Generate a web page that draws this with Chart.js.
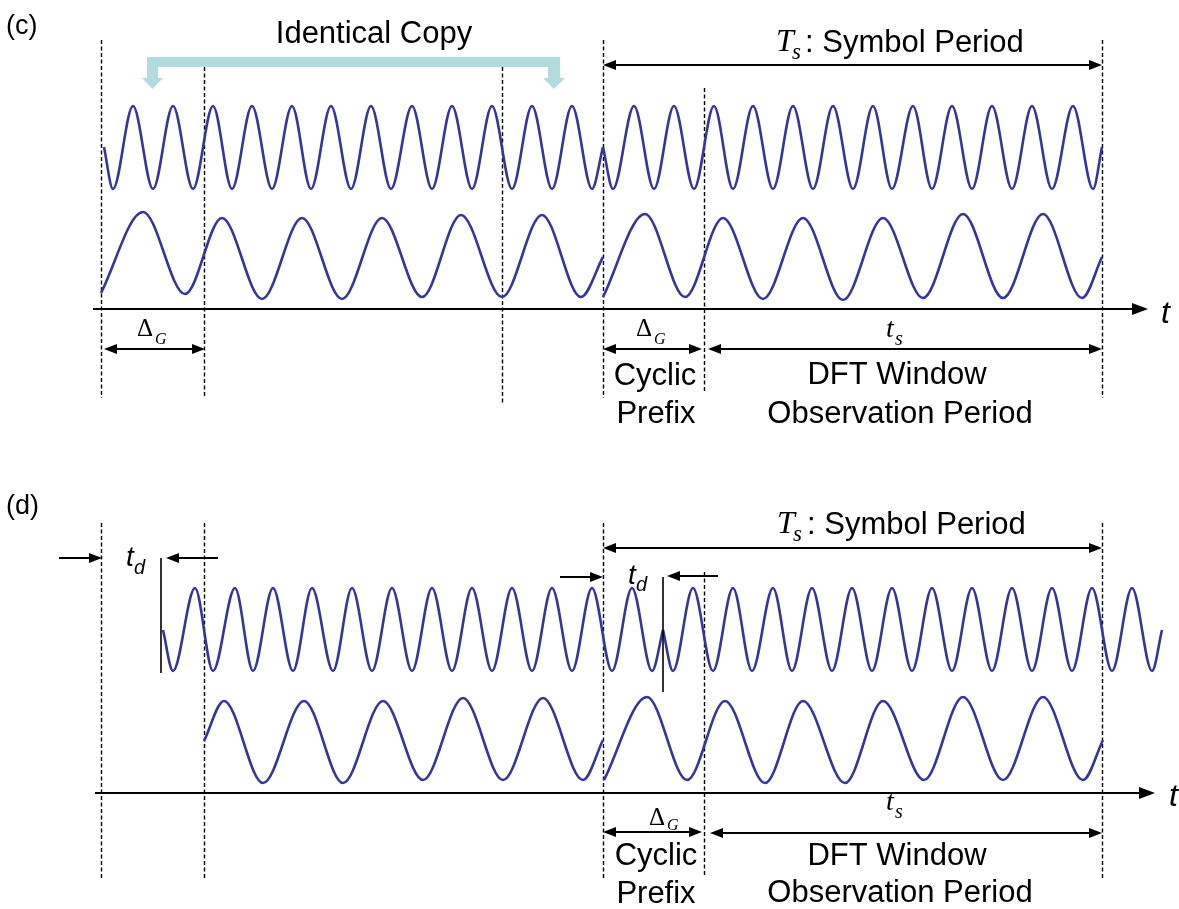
<!DOCTYPE html>
<html>
<head>
<meta charset="utf-8">
<title>Cyclic prefix / delay spread</title>
<script src="https://cdn.jsdelivr.net/npm/chart.js@4.4.1/dist/chart.umd.min.js"></script>
<style>
  html, body { margin: 0; padding: 0; background: #fff; }
  #wrap { width: 1179px; height: 909px; }
</style>
</head>
<body>
<div id="wrap"><canvas id="chart"></canvas></div>
<script>
// time runs left to right in the figure's own units, level top to bottom
// symbol edges: copy start/end, guard start, DFT start, symbol end
const edges = [101, 204, 502, 603, 704, 1102];

// (c) fast carrier: start, every trough/peak, end  ([time, level])
const fastC1 = [[104,147],[113,189],[133,106],[153,189],[173,106],[193,189],[213,106],[232,189],[252,106],[272,189],[292,106],[311,189],[331,106],[351,189],[371,106],[391,189],[412,106],[432,189],[452,106],[472,189],[492,106],[512,189],[532,106],[552,189],[572,106],[592,189],[603,147]];
const fastC2 = [[603,147],[613,189],[634,106],[654,189],[674,106],[694,189],[714,106],[733,189],[753,106],[773,189],[793,106],[813,189],[833,106],[853,189],[873,106],[892,189],[913,106],[932,189],[952,106],[972,189],[992,106],[1012,189],[1032,106],[1052,189],[1073,106],[1093,189],[1102,147]];
// (c) slow carrier
const slowC1 = [[101,293],[143,212],[185,294],[222,218],[262,299],[302,218],[342,299],[382,218],[422,297],[461,215],[502,297],[542,215],[581,297],[603,257]];
const slowC2 = [[603,297],[645,214],[685,297],[723,218],[763,299],[803,218],[843,300],[883,218],[923,298],[963,214],[1003,298],[1043,214],[1082,298],[1102,257]];

// (d) fast carrier, arriving t_d late
const fastD1 = [[163,630],[173,671],[195,588],[213,671],[235,588],[253,671],[273,588],[293,671],[312,588],[333,671],[352,588],[372,671],[392,588],[412,671],[432,588],[452,671],[472,588],[492,671],[512,588],[532,671],[552,588],[572,671],[592,588],[612,671],[632,588],[652,671],[663,630]];
const fastD2 = [[663,630],[673,671],[693,588],[713,671],[733,588],[752,671],[773,588],[792,671],[812,588],[832,671],[852,588],[872,671],[892,588],[912,671],[932,588],[952,671],[972,588],[992,671],[1012,588],[1032,671],[1052,588],[1072,671],[1092,588],[1112,671],[1132,588],[1152,671],[1162,630]];
// (d) slow carrier
const slowD1 = [[204,741],[224,701],[263,783],[304,701],[343,783],[383,701],[423,780],[463,698],[503,780],[543,698],[583,780],[603,740]];
const slowD2 = [[604,780],[647,697],[687,780],[725,701],[765,783],[803,701],[845,783],[883,701],[924,780],[963,697],[1003,780],[1043,697],[1083,780],[1103,740]];

const waves = [fastC1, fastC2, slowC1, slowC2, fastD1, fastD2, slowD1, slowD2];

// ---- layout of the annotations (in the same time/level units) ----
const dashC = [[101,40,398],[204,67,397],[502,67,405],[603,40,398],[704,88,393],[1102,40,398]];
const dashD = [[101,523,880],[204,523,880],[603,523,880],[704,572,877],[1102,523,880]];
const axes = [[93,1148,309],[95,1155,793]];
const spans = [[603,1102,65],[104,205,349],[603,702,349],[708,1102,349],[603,1102,548],[603,702,832],[710,1102,833]];
const pointers = [[59,102,558],[218,166,558],[560,603,577],[718,667,576]];
const markers = [[161,558,673],[663,577,692]];

const SANS = '"Liberation Sans", Arial, Helvetica, sans-serif';
const SERIF = '"Liberation Serif", "Times New Roman", serif';
const WAVE = '#34379a';
const COPY = '#b1dcdf';

const annotate = {
  id: 'annotate',
  beforeDatasetsDraw(chart) {
    const { ctx, scales: { x, y } } = chart;
    ctx.save();
    ctx.strokeStyle = '#000';
    ctx.lineWidth = 1.4;
    ctx.setLineDash([4, 2.5]);
    [...dashC, ...dashD].forEach(([t, a, b]) => {
      const px = Math.round(x.getPixelForValue(t)) + 0.5;
      ctx.beginPath();
      ctx.moveTo(px, y.getPixelForValue(a));
      ctx.lineTo(px, y.getPixelForValue(b));
      ctx.stroke();
    });
    ctx.restore();
  },
  afterDatasetsDraw(chart) {
    const { ctx, scales: { x, y } } = chart;
    const X = v => x.getPixelForValue(v);
    const Y = v => y.getPixelForValue(v);

    const head = (tx, ty, dir, len, half) => {
      ctx.beginPath();
      ctx.moveTo(tx, ty);
      ctx.lineTo(tx - dir * len, ty - half);
      ctx.lineTo(tx - dir * len, ty + half);
      ctx.closePath();
      ctx.fill();
    };
    const text = (s, t, v, font, align) => {
      ctx.font = font;
      ctx.textAlign = align || 'left';
      ctx.fillText(s, X(t), Y(v));
    };

    ctx.save();
    ctx.fillStyle = '#000';
    ctx.strokeStyle = '#000';

    // time axes
    ctx.lineWidth = 2.2;
    axes.forEach(([a, b, v]) => {
      ctx.beginPath();
      ctx.moveTo(X(a), Y(v));
      ctx.lineTo(X(b) - 10, Y(v));
      ctx.stroke();
      head(X(b), Y(v), 1, 16, 6);
    });

    // double headed spans
    ctx.lineWidth = 2.2;
    spans.forEach(([a, b, v]) => {
      ctx.beginPath();
      ctx.moveTo(X(a) + 6, Y(v));
      ctx.lineTo(X(b) - 6, Y(v));
      ctx.stroke();
      head(X(a), Y(v), -1, 13, 5);
      head(X(b), Y(v), 1, 13, 5);
    });

    // single arrows for the delay t_d
    pointers.forEach(([from, to, v]) => {
      const dir = to > from ? 1 : -1;
      ctx.beginPath();
      ctx.moveTo(X(from), Y(v));
      ctx.lineTo(X(to) - dir * 6, Y(v));
      ctx.stroke();
      head(X(to), Y(v), dir, 13, 5);
    });

    ctx.lineWidth = 1.6;
    markers.forEach(([t, a, b]) => {
      ctx.beginPath();
      ctx.moveTo(X(t), Y(a));
      ctx.lineTo(X(t), Y(b));
      ctx.stroke();
    });

    // "Identical Copy" bracket
    ctx.fillStyle = COPY;
    ctx.beginPath();
    [[147,57],[560,57],[560,78],[565,78],[554,89],[543,78],[548,78],[548,67],
     [158,67],[158,78],[163,78],[152.5,89],[142,78],[147,78]].forEach(([t, v], i) => {
      if (i === 0) ctx.moveTo(X(t), Y(v)); else ctx.lineTo(X(t), Y(v));
    });
    ctx.closePath();
    ctx.fill();

    ctx.fillStyle = '#000';
    ctx.textBaseline = 'alphabetic';

    // panel (c)
    text('(c)', 6, 34, '27px ' + SANS);
    text('Identical Copy', 374, 43, '31px ' + SANS, 'center');
    text('T', 776, 51, 'italic 32px ' + SERIF);
    text('s', 792, 59, 'italic 23px ' + SERIF);
    text(': Symbol Period', 805, 52, '31px ' + SANS);
    text('t', 1161, 323, 'italic 32px ' + SANS);
    text('\u0394', 137, 336, '25px ' + SERIF);
    text('G', 155, 344, 'italic 16px ' + SERIF);
    text('\u0394', 636, 336, '25px ' + SERIF);
    text('G', 654, 344, 'italic 16px ' + SERIF);
    text('t', 886, 337, 'italic 28px ' + SERIF);
    text('s', 895, 345, 'italic 20px ' + SERIF);
    text('Cyclic', 655, 385, '31px ' + SANS, 'center');
    text('Prefix', 656, 423, '31px ' + SANS, 'center');
    text('DFT Window', 897, 384, '31px ' + SANS, 'center');
    text('Observation Period', 900, 423, '31px ' + SANS, 'center');

    // panel (d)
    text('(d)', 6, 514, '27px ' + SANS);
    text('T', 777, 533, 'italic 32px ' + SERIF);
    text('s', 793, 541, 'italic 23px ' + SERIF);
    text(': Symbol Period', 807, 534, '31px ' + SANS);
    text('t', 1169, 806, 'italic 32px ' + SANS);
    text('t', 126, 566, 'italic 28px ' + SANS);
    text('d', 134, 574, 'italic 20px ' + SANS);
    text('t', 628, 584, 'italic 28px ' + SANS);
    text('d', 636, 591, 'italic 20px ' + SANS);
    text('\u0394', 649, 825, '25px ' + SERIF);
    text('G', 667, 830, 'italic 16px ' + SERIF);
    text('t', 886, 810, 'italic 28px ' + SERIF);
    text('s', 895, 818, 'italic 20px ' + SERIF);
    text('Cyclic', 656, 865, '31px ' + SANS, 'center');
    text('Prefix', 656, 903, '31px ' + SANS, 'center');
    text('DFT Window', 897, 865, '31px ' + SANS, 'center');
    text('Observation Period', 900, 902, '31px ' + SANS, 'center');

    ctx.restore();
  }
};

new Chart(document.getElementById('chart'), {
  type: 'line',
  data: {
    datasets: waves.map(w => ({
      data: w.map(([t, v]) => ({ x: t, y: v })),
      borderColor: WAVE,
      borderWidth: 2.6,
      pointRadius: 0,
      fill: false,
      cubicInterpolationMode: 'monotone'
    }))
  },
  options: {
    responsive: true,
    maintainAspectRatio: false,
    animation: false,
    layout: { padding: 0 },
    scales: {
      x: { type: 'linear', min: 0, max: 1179, display: false },
      y: { type: 'linear', min: 0, max: 909, reverse: true, display: false }
    },
    plugins: {
      legend: { display: false },
      tooltip: { enabled: false }
    }
  },
  plugins: [annotate]
});
</script>
</body>
</html>
